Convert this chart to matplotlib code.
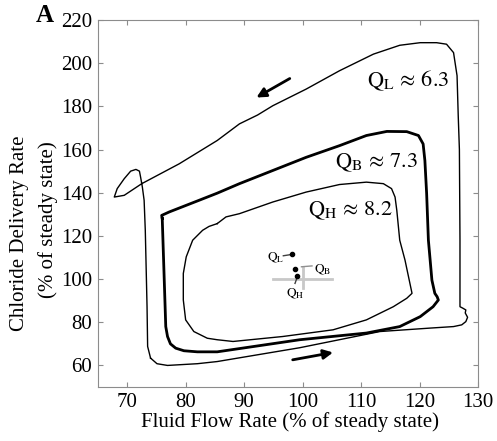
import matplotlib
matplotlib.use("Agg")
import matplotlib.pyplot as plt

plt.rcParams['font.family'] = ['Liberation Serif', 'DejaVu Serif']
plt.rcParams['mathtext.fontset'] = 'stix'

# Loop Q_L (thin, outer)
ql_x = [74.0, 75.1, 76.9, 82.0, 85.4, 99.5, 113.2, 121.8, 125.8, 127.2,
        127.9, 128.2, 127.8, 127.9, 127.4, 126.9, 126.9, 126.9, 126.8, 126.6,
        126.4, 125.8, 124.6, 122.9, 120.1, 116.6, 112.1, 106.3, 100.6, 94.9,
        92.3, 89.2, 85.4, 78.9, 72.5, 69.5, 67.8, 68.3, 69.5, 70.6,
        71.5, 72.1, 72.3, 72.6, 72.9, 73.1, 73.4, 73.5, 74.0]
ql_y = [63.4, 60.8, 60.0, 60.8, 61.8, 68.2, 75.7, 77.3, 78.0, 78.8,
        80.3, 82.3, 84.3, 85.7, 86.5, 87.2, 108.8, 118.0, 160.0, 175.7,
        194.2, 204.9, 208.8, 209.5, 209.5, 208.3, 204.2, 196.5, 188.0, 180.3,
        176.0, 171.9, 164.2, 153.4, 144.2, 138.8, 138.0, 141.9, 146.5, 150.0,
        150.8, 150.0, 147.2, 142.6, 136.5, 122.6, 87.2, 68.8, 63.4]

# Loop Q_B (thick, middle)
qb_x = [76.0, 76.6, 76.9, 77.4, 78.3, 79.7, 82.0, 85.4, 99.5, 110.9,
        116.6, 120.1, 122.3, 123.2, 123.0, 122.6, 122.1, 121.8, 121.5, 121.2,
        120.9, 120.6, 119.8, 117.8, 114.4, 110.9, 106.3, 100.6, 94.9, 89.2,
        85.4, 82.3, 77.2, 75.9, 76.0]
qb_y = [128.0, 78.0, 73.4, 70.0, 68.0, 66.8, 66.3, 66.3, 71.9, 75.0,
        78.0, 82.6, 87.2, 90.3, 91.8, 93.4, 99.5, 108.8, 118.0, 139.6,
        154.9, 162.6, 166.5, 168.3, 168.4, 166.5, 161.8, 156.4, 150.3, 144.2,
        139.8, 136.5, 131.1, 129.5, 128.0]

# Loop Q_H (thin, inner)
qh_x = [85.4, 84.0, 82.9, 81.2, 80.1, 79.6, 79.6, 80.0, 81.4, 83.7,
        85.4, 88.1, 96.6, 105.2, 110.9, 115.5, 117.8, 118.7, 118.1, 117.5,
        116.6, 116.1, 115.8, 115.2, 113.8, 110.9, 106.3, 100.6, 94.9, 89.2,
        86.9, 85.4]
qh_y = [125.7, 124.4, 122.6, 118.0, 110.3, 102.6, 90.3, 81.1, 75.7, 72.6,
        71.9, 71.1, 73.4, 76.5, 81.1, 87.2, 91.1, 93.4, 101.1, 108.8,
        118.0, 131.8, 138.0, 141.9, 144.2, 144.9, 143.8, 140.3, 135.7, 130.3,
        128.8, 125.7]

# Steady-state dots in the inset
dot_x = [98.2, 98.7, 99.1]
dot_y = [111.4, 104.6, 101.5]

xticks = [70, 80, 90, 100, 110, 120, 130]
yticks = [60, 80, 100, 120, 140, 160, 180, 200, 220]

fig = plt.figure(figsize=(4.97, 4.41), dpi=100)
ax = fig.add_axes([0.197, 0.1224, 0.765, 0.8322])

ax.plot(ql_x, ql_y, color='black', lw=1.0, solid_joinstyle='round')
ax.plot(qb_x, qb_y, color='black', lw=2.0, solid_joinstyle='round')
ax.plot(qh_x, qh_y, color='black', lw=1.0, solid_joinstyle='round')

# arrows
ax.annotate('', xy=(92.1, 184.1), xytext=(97.8, 192.9),
            arrowprops=dict(arrowstyle='-|>', color='black', lw=2.0,
                            mutation_scale=14, shrinkA=0, shrinkB=0))
ax.annotate('', xy=(105.2, 66.0), xytext=(98.3, 62.6),
            arrowprops=dict(arrowstyle='-|>', color='black', lw=2.0,
                            mutation_scale=14, shrinkA=0, shrinkB=0))

# big labels
ax.text(111.0, 189.5, r'$\mathrm{Q_L}\,\approx\,6.3$', fontsize=16, ha='left', va='baseline')
ax.text(105.5, 151.8, r'$\mathrm{Q_B}\,\approx\,7.3$', fontsize=16, ha='left', va='baseline')
ax.text(100.9, 129.5, r'$\mathrm{Q_H}\,\approx\,8.2$', fontsize=16, ha='left', va='baseline')

# inset: steady-state cross
gray = '#c8c8c8'
ax.plot([95.0, 105.0], [99.9, 99.9], color=gray, lw=2.0)
ax.plot([100.0, 100.0], [95.7, 105.7], color=gray, lw=2.0)
ax.plot([99.8, 101.6], [105.7, 106.1], color='#909090', lw=1.0)
ax.plot([96.7, 98.1], [110.8, 111.4], color='#404040', lw=1.0)
ax.plot([99.1, 98.7], [101.1, 98.0], color='#404040', lw=1.0)
ax.scatter(dot_x, dot_y, s=9, color='black', zorder=5)
ax.text(95.4, 109.8, r'$\mathrm{Q_L}$', fontsize=9.5, ha='center', va='center')
ax.text(103.4, 104.4, r'$\mathrm{Q_B}$', fontsize=9.5, ha='center', va='center')
ax.text(98.7, 93.0, r'$\mathrm{Q_H}$', fontsize=9.5, ha='center', va='center')

ax.set_xlim(65, 130)
ax.set_ylim(50, 220)
ax.set_xticks(xticks)
ax.set_yticks(yticks)
ax.set_xticklabels([str(v) for v in xticks])
ax.set_yticklabels([str(v) for v in yticks])
for s in ax.spines.values():
    s.set_color('#8c8c8c')
    s.set_linewidth(0.8)
ax.tick_params(direction='in', length=3.5, width=0.8, color='#8c8c8c',
               labelsize=15, top=True, right=True, pad=4)

fig.text(290 / 497, 1 - 427 / 441, 'Fluid Flow Rate (% of steady state)',
         fontsize=15, ha='center', va='baseline')
fig.text(20 / 497, 1 - 233 / 441, 'Chloride Delivery Rate', fontsize=15,
         rotation=90, ha='center', va='center')
fig.text(48 / 497, 1 - 220 / 441, '(% of steady state)', fontsize=15,
         rotation=90, ha='center', va='center')
fig.text(36 / 497, 1 - 22 / 441, 'A', fontsize=18, fontweight='bold',
         ha='left', va='baseline')

fig.savefig('out.png', dpi=100)
